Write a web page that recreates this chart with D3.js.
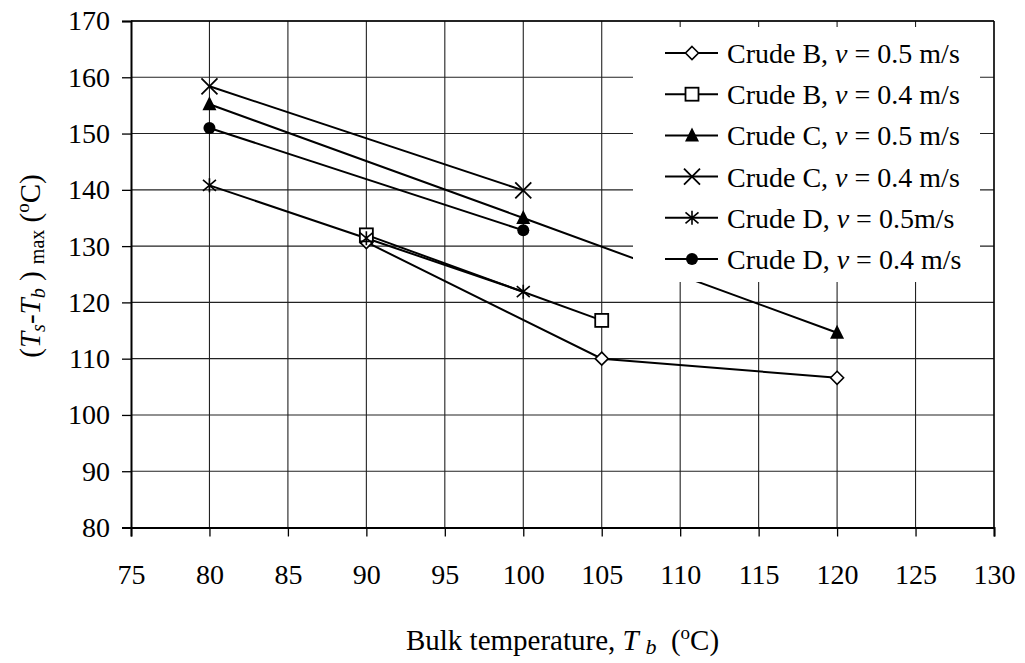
<!DOCTYPE html>
<html><head><meta charset="utf-8">
<script src="https://cdn.jsdelivr.net/npm/d3@7"></script>
<style>
html,body{margin:0;padding:0;background:#fff;}
svg{display:block;}
svg text{font-family:"Liberation Serif","Times New Roman",serif;}
</style></head>
<body>
<svg id="chart" width="1025" height="663"></svg>
<script>
// ---- data ----
const xTicks = [75,80,85,90,95,100,105,110,115,120,125,130];
const yTicks = [80,90,100,110,120,130,140,150,160,170];

const crudeB05_x = [90,105,120];
const crudeB05_y = [130.7,110.0,106.6];
const crudeB04_x = [90,105];
const crudeB04_y = [132.0,116.8];
const crudeC05_x = [80,100,120];
const crudeC05_y = [155.2,135.0,114.6];
const crudeC04_x = [80,100];
const crudeC04_y = [158.4,139.9];
const crudeD05_x = [80,90,100];
const crudeD05_y = [140.8,131.4,121.9];
const crudeD04_x = [80,100];
const crudeD04_y = [151.0,132.8];

const seriesNames = ["Crude B, ","Crude B, ","Crude C, ","Crude C, ","Crude D, ","Crude D, "];
const seriesSpeeds = [" = 0.5 m/s"," = 0.4 m/s"," = 0.5 m/s"," = 0.4 m/s"," = 0.5m/s"," = 0.4 m/s"];
const seriesMarkers = ["diamond","square","triangle","x","asterisk","circle"];

const series = [
  {x:crudeB05_x,y:crudeB05_y},
  {x:crudeB04_x,y:crudeB04_y},
  {x:crudeC05_x,y:crudeC05_y},
  {x:crudeC04_x,y:crudeC04_y},
  {x:crudeD05_x,y:crudeD05_y},
  {x:crudeD04_x,y:crudeD04_y}
].map((s,i)=>({name:seriesNames[i],speed:seriesSpeeds[i],marker:seriesMarkers[i],
  pts:s.x.map((v,j)=>({x:v,y:s.y[j]}))}));

// ---- layout ----
const L=131,R=994,T=21,B=527.5;
const FONT="'Liberation Serif','Times New Roman',serif";
const svg=d3.select("#chart");
const x=d3.scaleLinear().domain([75,130]).range([L,R]);
const y=d3.scaleLinear().domain([80,170]).range([B,T]);

// gridlines
const grid=svg.append("g");
grid.selectAll(".gv").data(xTicks.slice(1)).join("line")
  .attr("x1",d=>x(d)).attr("x2",d=>x(d)).attr("y1",T).attr("y2",B)
  .attr("stroke","#222").attr("stroke-width",1.1);
grid.selectAll(".gh").data(yTicks.slice(1)).join("line")
  .attr("x1",L).attr("x2",R).attr("y1",d=>y(d)).attr("y2",d=>y(d))
  .attr("stroke","#222").attr("stroke-width",1.1);

// axes
const xAxis=d3.axisBottom(x).tickValues(xTicks).tickSize(9).tickPadding(28).tickFormat(d3.format("d"));
const yAxis=d3.axisLeft(y).tickValues(yTicks).tickSize(9).tickPadding(12).tickFormat(d3.format("d"));
const gx=svg.append("g").attr("transform",`translate(0,${B})`).call(xAxis);
const gy=svg.append("g").attr("transform",`translate(${L},0)`).call(yAxis);
[gx,gy].forEach(g=>{
  g.attr("font-family",FONT).attr("font-size",28);
  g.select(".domain").attr("stroke","#000").attr("stroke-width",2);
  g.selectAll(".tick line").attr("stroke","#000").attr("stroke-width",1.3);
  g.selectAll(".tick text").attr("fill","#000").style("font-family",FONT).style("font-size","28px");
});
// top & right border
svg.append("line").attr("x1",L).attr("x2",R).attr("y1",T).attr("y2",T).attr("stroke","#000").attr("stroke-width",1.3);
svg.append("line").attr("x1",R).attr("x2",R).attr("y1",T).attr("y2",B).attr("stroke","#000").attr("stroke-width",1.3);

// marker drawing
function drawMarker(g,type,cx,cy){
  const m=g.append("g").attr("transform",`translate(${cx},${cy})`);
  if(type==="diamond"){
    m.append("path").attr("d","M0,-6.5L6.5,0L0,6.5L-6.5,0Z").attr("fill","#fff").attr("stroke","#000").attr("stroke-width",1.6);
  } else if(type==="square"){
    m.append("rect").attr("x",-6.5).attr("y",-6.5).attr("width",13).attr("height",13).attr("fill","#fff").attr("stroke","#000").attr("stroke-width",1.8);
  } else if(type==="triangle"){
    m.append("path").attr("d","M0,-8L7,6L-7,6Z").attr("fill","#000");
  } else if(type==="x"){
    m.append("path").attr("d","M-8,-8L8,8M-8,8L8,-8").attr("stroke","#000").attr("stroke-width",1.8).attr("fill","none");
  } else if(type==="asterisk"){
    m.append("path").attr("d","M0,-7L0,7M-6.5,-5.5L6.5,5.5M-6.5,5.5L6.5,-5.5").attr("stroke","#000").attr("stroke-width",1.6).attr("fill","none");
  } else if(type==="circle"){
    m.append("circle").attr("r",6).attr("fill","#000");
  }
}

// lines
const line=d3.line().x(d=>x(d.x)).y(d=>y(d.y));
const gl=svg.append("g");
series.forEach(s=>{
  gl.append("path").datum(s.pts).attr("d",line).attr("fill","none").attr("stroke","#000").attr("stroke-width",2);
});
const gm=svg.append("g");
series.forEach(s=>{ s.pts.forEach(p=>drawMarker(gm,s.marker,x(p.x),y(p.y))); });

// legend
const lg=svg.append("g");
lg.append("rect").attr("x",633).attr("y",27).attr("width",347).attr("height",255).attr("fill","#fff");
series.forEach((s,i)=>{
  const cy=53+i*41.2;
  lg.append("line").attr("x1",665).attr("x2",718).attr("y1",cy).attr("y2",cy).attr("stroke","#000").attr("stroke-width",2);
  drawMarker(lg,s.marker,692,cy);
  const t=lg.append("text").attr("x",727).attr("y",cy+10).style("font-size","28px").attr("fill","#000").attr("xml:space","preserve");
  t.append("tspan").text(s.name);
  t.append("tspan").attr("font-style","italic").text("v");
  t.append("tspan").text(s.speed);
});

// y axis title
const yt=svg.append("text").attr("transform","translate(40,266) rotate(-90)").attr("text-anchor","middle").style("font-size","29px").attr("fill","#000").attr("xml:space","preserve");
yt.append("tspan").text("(");
yt.append("tspan").attr("font-style","italic").text("T");
yt.append("tspan").attr("font-style","italic").style("font-size","20px").attr("dy",5).text("s");
yt.append("tspan").attr("dy",-5).text("-");
yt.append("tspan").attr("font-style","italic").text("T");
yt.append("tspan").attr("font-style","italic").style("font-size","20px").attr("dy",5).text("b");
yt.append("tspan").attr("dy",-5).text(" ) ");
yt.append("tspan").style("font-size","20px").attr("dy",4).text("max");
yt.append("tspan").attr("dy",-4).text(" (");
yt.append("tspan").style("font-size","19px").attr("dy",-11).text("o");
yt.append("tspan").attr("dy",11).text("C)");

// x axis title
const xt=svg.append("text").attr("x",(L+R)/2).attr("y",650).attr("text-anchor","middle").style("font-size","29px").attr("fill","#000").attr("xml:space","preserve");
xt.append("tspan").text("Bulk temperature, ");
xt.append("tspan").attr("font-style","italic").text("T ");
xt.append("tspan").attr("font-style","italic").style("font-size","22px").attr("dy",4).text("b");
xt.append("tspan").attr("dy",-4).text("  (");
xt.append("tspan").style("font-size","19px").attr("dy",-11).text("o");
xt.append("tspan").attr("dy",11).text("C)");
</script>
</body></html>
